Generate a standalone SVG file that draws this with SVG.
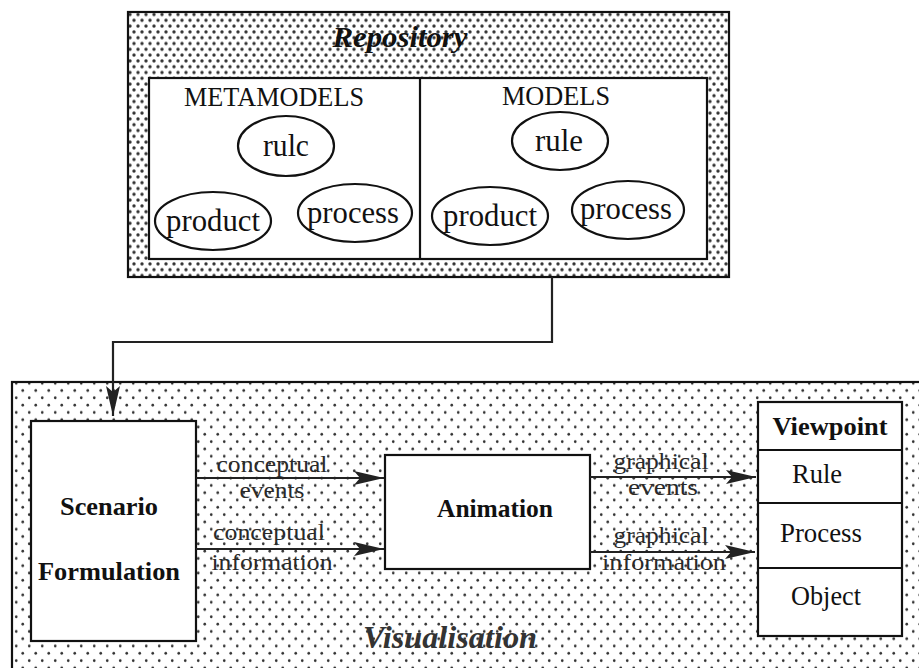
<svg xmlns="http://www.w3.org/2000/svg" width="919" height="668" viewBox="0 0 919 668">
<style>
  .box { fill: #fff; stroke: #111; stroke-width: 2.2; }
  .ell { fill: #fff; stroke: #111; stroke-width: 2.2; }
  .serif { font-family: "Liberation Serif", "Times New Roman", serif; fill: #111; }
  .lbl { font-family: "Liberation Serif", "Times New Roman", serif; font-size: 23px; fill: #2a2a2a; }
  .conn { fill: none; stroke: #222; stroke-width: 2.2; }
</style>
<defs>
  <pattern id="repoDots" width="8" height="11.6" patternUnits="userSpaceOnUse">
    <rect width="8" height="11.6" fill="#fff"/>
    <circle cx="2" cy="2.9" r="1.7" fill="#333"/>
    <circle cx="6" cy="8.7" r="1.7" fill="#333"/>
  </pattern>
  <pattern id="visDots" width="13" height="14.6" patternUnits="userSpaceOnUse">
    <rect width="13" height="14.6" fill="#fff"/>
    <circle cx="3.25" cy="3.65" r="1.35" fill="#333"/>
    <circle cx="9.75" cy="10.95" r="1.35" fill="#333"/>
  </pattern>
  <marker id="arrow" viewBox="0 0 30 16" refX="30" refY="8" markerWidth="30" markerHeight="16" markerUnits="userSpaceOnUse" orient="auto">
    <path d="M0,1 L30,8 L0,15 L6,8 Z" fill="#222"/>
  </marker>
</defs>
<rect width="919" height="668" fill="#fff"/>

<g id="repository">
  <rect x="128" y="12" width="601" height="265" fill="url(#repoDots)" stroke="#111" stroke-width="2.2"/>
  <text class="serif" x="400" y="47" font-size="29" font-weight="bold" font-style="italic" text-anchor="middle" textLength="135" lengthAdjust="spacingAndGlyphs">Repository</text>
  <rect class="box" x="149" y="78" width="558" height="181"/>
  <line x1="420" y1="78" x2="420" y2="259" stroke="#111" stroke-width="2.2"/>
</g>

<g id="metamodels">
  <text class="serif" x="274" y="106" font-size="27" text-anchor="middle" textLength="180" lengthAdjust="spacingAndGlyphs">METAMODELS</text>
  <g id="meta-rule">
    <ellipse class="ell" cx="286" cy="146" rx="48" ry="30"/>
    <text class="serif" x="286" y="156" font-size="31" text-anchor="middle" textLength="46" lengthAdjust="spacingAndGlyphs">rulc</text>
  </g>
  <g id="meta-product">
    <ellipse class="ell" cx="213" cy="221" rx="58" ry="29"/>
    <text class="serif" x="213" y="231" font-size="31" text-anchor="middle" textLength="94" lengthAdjust="spacingAndGlyphs">product</text>
  </g>
  <g id="meta-process">
    <ellipse class="ell" cx="355" cy="213" rx="57" ry="29"/>
    <text class="serif" x="353" y="223" font-size="31" text-anchor="middle" textLength="92" lengthAdjust="spacingAndGlyphs">process</text>
  </g>
</g>

<g id="models">
  <text class="serif" x="556" y="105" font-size="27" text-anchor="middle" textLength="108" lengthAdjust="spacingAndGlyphs">MODELS</text>
  <g id="model-rule">
    <ellipse class="ell" cx="560" cy="141" rx="48" ry="29"/>
    <text class="serif" x="559" y="151" font-size="31" text-anchor="middle" textLength="48" lengthAdjust="spacingAndGlyphs">rule</text>
  </g>
  <g id="model-product">
    <ellipse class="ell" cx="490" cy="216" rx="58" ry="29"/>
    <text class="serif" x="490" y="226" font-size="31" text-anchor="middle" textLength="94" lengthAdjust="spacingAndGlyphs">product</text>
  </g>
  <g id="model-process">
    <ellipse class="ell" cx="628" cy="210" rx="56" ry="29"/>
    <text class="serif" x="626" y="219" font-size="31" text-anchor="middle" textLength="92" lengthAdjust="spacingAndGlyphs">process</text>
  </g>
</g>

<g id="visualisation">
  <rect x="12" y="382" width="920" height="300" fill="url(#visDots)" stroke="#111" stroke-width="2.2"/>
  <text x="450" y="648" font-family="Liberation Serif, Times New Roman, serif" font-size="32" font-weight="bold" font-style="italic" fill="#333" text-anchor="middle" textLength="174" lengthAdjust="spacingAndGlyphs">Visualisation</text>
</g>

<g id="scenario">
  <rect class="box" x="31" y="421" width="165" height="220"/>
  <text class="serif" x="109" y="515" font-size="26" font-weight="bold" text-anchor="middle" textLength="98" lengthAdjust="spacingAndGlyphs">Scenario</text>
  <text class="serif" x="109" y="580" font-size="26" font-weight="bold" text-anchor="middle" textLength="142" lengthAdjust="spacingAndGlyphs">Formulation</text>
</g>

<g id="animation">
  <rect class="box" x="385" y="455" width="205" height="114"/>
  <text class="serif" x="495" y="517" font-size="26" font-weight="bold" text-anchor="middle" textLength="116" lengthAdjust="spacingAndGlyphs">Animation</text>
</g>

<g id="viewpoint">
  <rect class="box" x="758" y="402" width="144" height="234"/>
  <line x1="758" y1="450" x2="902" y2="450" stroke="#111" stroke-width="2.2"/>
  <line x1="758" y1="503" x2="902" y2="503" stroke="#111" stroke-width="2.2"/>
  <line x1="758" y1="568" x2="902" y2="568" stroke="#111" stroke-width="2.2"/>
  <text class="serif" x="830" y="435" font-size="26" font-weight="bold" text-anchor="middle" textLength="115" lengthAdjust="spacingAndGlyphs">Viewpoint</text>
  <text class="serif" x="817" y="483" font-size="27" text-anchor="middle" textLength="50" lengthAdjust="spacingAndGlyphs">Rule</text>
  <text class="serif" x="821" y="542" font-size="27" text-anchor="middle" textLength="82" lengthAdjust="spacingAndGlyphs">Process</text>
  <text class="serif" x="826" y="605" font-size="27" text-anchor="middle" textLength="70" lengthAdjust="spacingAndGlyphs">Object</text>
</g>

<g id="connectors">
  <path class="conn" d="M552,277 V342 H113 V416" marker-end="url(#arrow)"/>
  <line class="conn" x1="196" y1="478" x2="384" y2="478" marker-end="url(#arrow)"/>
  <line class="conn" x1="196" y1="549" x2="384" y2="549" marker-end="url(#arrow)"/>
  <line class="conn" x1="590" y1="477" x2="756" y2="477" marker-end="url(#arrow)"/>
  <line class="conn" x1="590" y1="552" x2="755" y2="552" marker-end="url(#arrow)"/>
  <text class="lbl" x="272" y="472" text-anchor="middle" textLength="111" lengthAdjust="spacingAndGlyphs">conceptual</text>
  <text class="lbl" x="272" y="498" text-anchor="middle" textLength="65" lengthAdjust="spacingAndGlyphs">events</text>
  <text class="lbl" x="269" y="540" text-anchor="middle" textLength="112" lengthAdjust="spacingAndGlyphs">conceptual</text>
  <text class="lbl" x="272" y="570" text-anchor="middle" textLength="121" lengthAdjust="spacingAndGlyphs">information</text>
  <text class="lbl" x="661" y="469" text-anchor="middle" textLength="95" lengthAdjust="spacingAndGlyphs">graphical</text>
  <text class="lbl" x="663" y="495" text-anchor="middle" textLength="70" lengthAdjust="spacingAndGlyphs">events</text>
  <text class="lbl" x="661" y="543" text-anchor="middle" textLength="95" lengthAdjust="spacingAndGlyphs">graphical</text>
  <text class="lbl" x="664" y="570" text-anchor="middle" textLength="124" lengthAdjust="spacingAndGlyphs">information</text>
</g>
</svg>
